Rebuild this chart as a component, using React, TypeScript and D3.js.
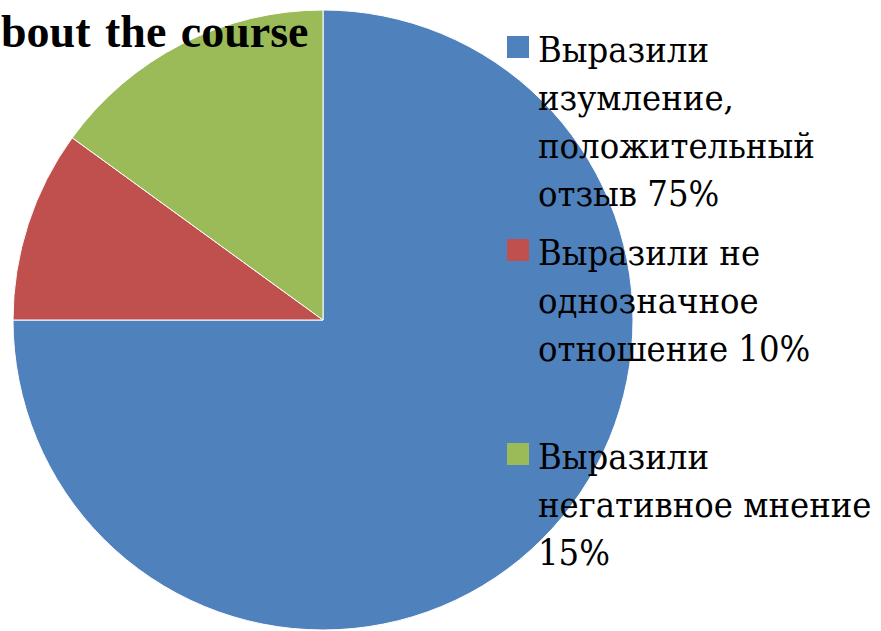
import React from "react";
import * as d3 from "d3";

const categories = [
  "Выразили изумление, положительный отзыв 75%",
  "Выразили не однозначное отношение 10%",
  "Выразили негативное мнение 15%",
];
const values = [75, 10, 15];
const colors = ["#4F81BD", "#C0504D", "#9BBB59"];
const legendLines = [
  ["Выразили", "изумление,", "положительный", "отзыв 75%"],
  ["Выразили не", "однозначное", "отношение 10%"],
  ["Выразили", "негативное мнение", "15%"],
];
const titleText = "bout the course";

export default function App() {
  const W = 881, H = 631;
  const cx = 323, cy = 320, r = 310;
  const pie = d3.pie<number>().sort(null).value((d) => d);
  const arcs = pie(values);
  const arc = d3.arc<d3.PieArcDatum<number>>().innerRadius(0).outerRadius(r);
  const legendTop = [62, 265, 469];
  const lineH = 48;
  return (
    <svg width={W} height={H} style={{ position: "absolute", left: 0, top: 0, background: "#fff" }}>
      <g transform={`translate(${cx},${cy})`}>
        {arcs.map((a, i) => (
          <path key={categories[i]} d={arc(a) || ""} fill={colors[i]} stroke="#fff" strokeWidth={1} />
        ))}
      </g>
      <text x={1} y={47} fontFamily="'Liberation Serif', serif" fontSize={46} fontWeight="bold"
        wordSpacing={3} fill="#000">{titleText}</text>
      {legendLines.map((lines, i) => (
        <g key={i}>
          <rect x={507} y={legendTop[i] - 26} width={22} height={22} fill={colors[i]} />
          {lines.map((l, j) => (
            <text key={j} x={538} y={legendTop[i] + j * lineH}
              fontFamily="'DejaVu Serif Condensed', 'DejaVu Serif', serif"
              fontStretch="condensed" fontSize={36} fill="#000">{l}</text>
          ))}
        </g>
      ))}
    </svg>
  );
}
